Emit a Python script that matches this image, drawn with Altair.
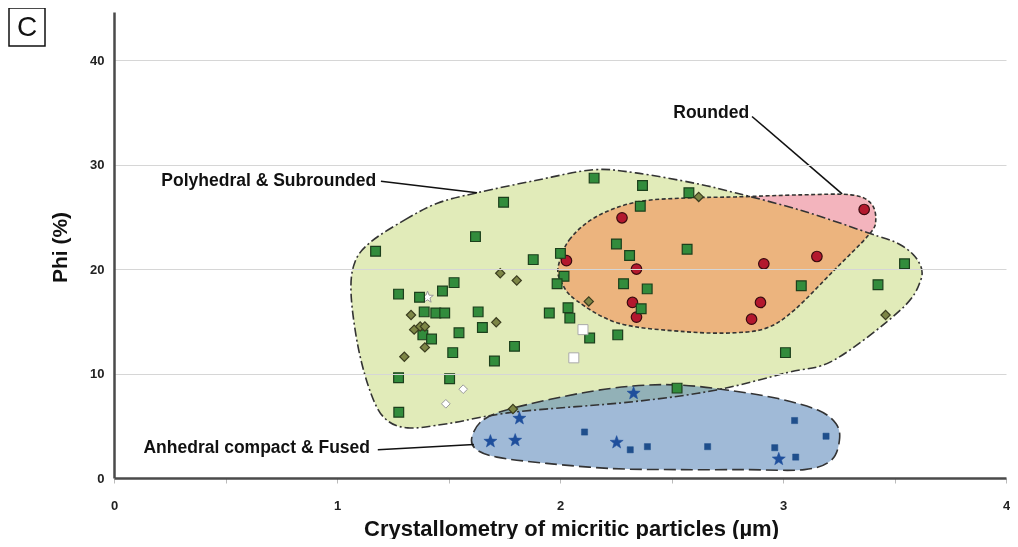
import math
import altair as alt
import pandas as pd

# ---------------- data ----------------
green_sq_x = [1.173, 1.747, 1.621, 1.880, 2.002, 2.018, 1.987, 1.525, 1.473, 1.276, 1.370, 1.391,
              1.443, 1.483, 1.633, 1.652, 1.547, 1.385, 1.424, 1.796, 1.519, 1.706, 1.276, 1.505,
              1.277, 1.952, 2.036, 2.044, 2.133, 2.153, 2.370, 2.578, 2.360, 2.253, 2.312, 2.570,
              2.285, 2.391, 2.364, 2.259, 3.082, 3.011, 3.426, 3.545, 2.525]
green_sq_y = [21.7, 26.4, 23.1, 20.9, 21.5, 19.3, 18.6, 18.7, 17.9, 17.6, 17.3, 15.9,
              15.8, 15.8, 15.9, 14.4, 13.9, 13.7, 13.3, 12.6, 12.0, 11.2, 9.6, 9.5,
              6.3, 15.8, 16.3, 15.3, 13.4, 28.7, 28.0, 27.3, 26.0, 22.4, 21.3, 21.9,
              18.6, 18.1, 16.2, 13.7, 18.4, 12.0, 18.5, 20.5, 8.6]

olive_dia_x = [1.732, 1.806, 1.332, 1.714, 1.346, 1.373, 1.394, 1.394, 1.302, 2.129, 1.789, 2.622, 3.460]
olive_dia_y = [19.6, 18.9, 15.6, 14.9, 14.2, 14.5, 14.5, 12.5, 11.6, 16.9, 6.6, 26.9, 15.6]

white_dia_x = [1.566, 1.488]
white_dia_y = [8.5, 7.1]
white_sq_x = [2.103, 2.062]
white_sq_y = [14.2, 11.5]
white_star_x = [1.406]
white_star_y = [17.3]

red_x = [2.278, 2.029, 2.343, 2.325, 2.343, 2.914, 3.152, 2.899, 2.859, 3.364]
red_y = [24.9, 20.8, 20.0, 16.8, 15.4, 20.5, 21.2, 16.8, 15.2, 25.7]

blue_star_x = [2.330, 1.818, 1.688, 1.799, 2.254, 2.981]
blue_star_y = [8.1, 5.7, 3.5, 3.6, 3.4, 1.8]
blue_sq_x = [2.110, 2.315, 2.392, 2.662, 2.963, 3.057, 3.052, 3.193]
blue_sq_y = [4.4, 2.7, 3.0, 3.0, 2.9, 2.0, 5.5, 4.0]

# region outlines (data units)
poly_x = [1.152, 1.304, 1.450, 1.628, 1.895, 2.149, 2.340, 2.607, 2.785, 3.083, 3.377, 3.528,
          3.608, 3.617, 3.528, 3.230, 3.021, 2.696, 2.327, 1.793, 1.495, 1.317, 1.215, 1.152,
          1.095, 1.063, 1.081]
poly_y = [22.6, 24.7, 26.3, 27.3, 28.5, 29.5, 29.2, 28.2, 27.3, 25.6, 23.5, 22.3,
          20.7, 18.9, 16.1, 11.3, 10.1, 8.4, 7.3, 6.3, 5.2, 4.8, 5.7, 8.1,
          12.5, 17.7, 20.7]

round_x = [1.992, 2.042, 2.162, 2.340, 2.563, 2.785, 3.082, 3.305, 3.394, 3.416, 3.386, 3.230,
           3.052, 2.932, 2.785, 2.563, 2.265, 2.073, 2.007]
round_y = [20.2, 22.8, 25.0, 26.4, 26.8, 26.9, 27.1, 27.1, 26.3, 24.7, 23.3, 19.9,
           16.1, 14.4, 13.9, 14.0, 14.8, 17.0, 18.7]

# part of the "Rounded" zone lying outside the polyhedral zone (above its edge)
pink_x = [2.600, 2.785, 3.083, 3.377, 3.528, 3.700, 3.700, 2.600]
pink_y = [28.3, 27.3, 25.6, 23.5, 22.3, 22.3, 28.6, 28.6]

anh_x = [1.606, 1.658, 1.792, 2.088, 2.326, 2.533, 2.756, 2.978, 3.156, 3.238, 3.253, 3.216,
         3.096, 2.830, 2.532, 2.237, 1.940, 1.717, 1.621]
anh_y = [4.0, 5.6, 6.7, 8.1, 8.8, 8.9, 8.4, 7.6, 6.5, 5.2, 3.6, 1.7,
         0.8, 0.8, 0.8, 0.9, 1.4, 2.0, 2.8]

labels = ["Polyhedral & Subrounded", "Rounded", "Anhedral compact & Fused"]
label_x = [0.694, 2.678, 0.640]
label_y = [28.4, 34.9, 2.9]
lead_x = [1.197, 2.861, 1.183]
lead_y = [28.4, 34.6, 2.7]
lead_x2 = [1.628, 3.265, 1.614]
lead_y2 = [27.3, 27.2, 3.2]

x_ticks = [0, 0.5, 1, 1.5, 2, 2.5, 3, 3.5, 4]
y_ticks = [0, 10, 20, 30, 40]

FONT = "Liberation Sans"
AXIS_DARK = "#4a4a4a"


def X(field="x"):
    return alt.X(f"{field}:Q",
                 scale=alt.Scale(domain=[0, 4], nice=False, zero=False),
                 axis=alt.Axis(values=x_ticks, grid=False, ticks=True, tickSize=5,
                               tickColor="#bbbbbb", tickWidth=1,
                               domainColor=AXIS_DARK, domainWidth=2.5,
                               labelExpr="datum.value % 1 === 0 ? format(datum.value, 'd') : ''",
                               labelFont=FONT, labelFontSize=13, labelFontWeight="bold",
                               labelColor="#222222", labelPadding=16, labelFlush=False,
                               title="Crystallometry of micritic particles (µm)",
                               titleFont=FONT, titleFontSize=22, titleFontWeight="bold",
                               titleColor="#111111", titleX=457, titleY=57,
                               titleBaseline="alphabetic", zindex=2))


def Y(field="y"):
    return alt.Y(f"{field}:Q",
                 scale=alt.Scale(domain=[0, 44.6], nice=False, zero=True),
                 axis=alt.Axis(values=y_ticks, grid=True,
                               gridColor={"condition": {"test": "datum.value === 0",
                                                        "value": "transparent"},
                                          "value": "#d6d6d6"},
                               gridWidth=1, ticks=False, tickSize=0,
                               domainColor=AXIS_DARK, domainWidth=2.5,
                               labelFont=FONT, labelFontSize=13, labelFontWeight="bold",
                               labelColor="#222222", labelPadding=10,
                               title="Phi (%)", titleFont=FONT, titleFontSize=21,
                               titleFontWeight="bold", titleColor="#111111",
                               titleX=-54, titleY=235, titleBaseline="middle", titleAngle=-90,
                               zindex=1))


def poly_df(xs, ys):
    return pd.DataFrame({"x": xs, "y": ys, "i": list(range(len(xs)))})


def region_fill(xs, ys, color, interp="cardinal-closed", **kw):
    return alt.Chart(poly_df(xs, ys)).mark_line(
        interpolate=interp, fill=color, stroke="transparent", strokeWidth=0, **kw
    ).encode(x=X(), y=Y(), order="i:Q")


def region_stroke(xs, ys, dash, width=1.6):
    return alt.Chart(poly_df(xs, ys)).mark_line(
        interpolate="cardinal-closed", stroke="#333333", strokeWidth=width,
        strokeDash=dash, fill="transparent"
    ).encode(x=X(), y=Y(), order="i:Q")


def points(xs, ys, shape, size, fill, stroke, sw):
    return alt.Chart(pd.DataFrame({"x": xs, "y": ys})).mark_point(
        shape=shape, size=size, filled=True, fill=fill, stroke=stroke,
        strokeWidth=sw, opacity=1
    ).encode(x=X(), y=Y())


# 5-point star as a unit path
_pts = []
for k in range(10):
    r = 1.0 if k % 2 == 0 else 0.42
    a = -math.pi / 2 + k * math.pi / 5
    _pts.append(f"{r * math.cos(a):.3f},{r * math.sin(a):.3f}")
STAR = "M" + "L".join(_pts) + "Z"

fills = [
    region_fill(poly_x, poly_y, "#e1ebb9"),
    region_fill(round_x, round_y, "#ecb47e"),
    region_fill(pink_x, pink_y, "#f3b3bd", interp="linear-closed", blend="lighten"),
    region_fill(anh_x, anh_y, "#5281b6", fillOpacity=0.55),
]
strokes = [
    region_stroke(poly_x, poly_y, [9, 3, 2, 3]),
    region_stroke(round_x, round_y, [4, 2.5]),
    region_stroke(anh_x, anh_y, [12, 5]),
]

pts_layers = [
    points(white_star_x, white_star_y, STAR, 150, "#ffffff", "#999999", 1),
    points(red_x, red_y, "circle", 110, "#b3182e", "#3a0a0f", 1.2),
    points(green_sq_x, green_sq_y, "square", 95, "#328c3c", "#1c3f1c", 1.2),
    points(olive_dia_x, olive_dia_y, "diamond", 85, "#7d8646", "#3b3d1f", 1.2),
    points(white_dia_x, white_dia_y, "diamond", 75, "#ffffff", "#999999", 1),
    points(white_sq_x, white_sq_y, "square", 100, "#ffffff", "#aaaaaa", 1),
    points(blue_star_x, blue_star_y, STAR, 190, "#1f4f9c", "#1f4f9c", 0.5),
    points(blue_sq_x, blue_sq_y, "square", 38, "#1f4f8c", "#1f4f8c", 0.5),
]

ann_df = pd.DataFrame({"label": labels, "x": label_x, "y": label_y,
                       "lx": lead_x, "ly": lead_y, "lx2": lead_x2, "ly2": lead_y2})
leaders = alt.Chart(ann_df).mark_rule(color="#111111", strokeWidth=1.6).encode(
    x=X("lx"), y=Y("ly"), x2="lx2:Q", y2="ly2:Q")
texts = alt.Chart(ann_df).mark_text(
    font=FONT, fontSize=17.5, fontWeight="bold", color="#111111",
    align="center", baseline="middle"
).encode(x=X(), y=Y(), text="label:N")

one = pd.DataFrame({"a": [0]})
panel_box = alt.Chart(one).mark_rect(fill="transparent", stroke="#111111", strokeWidth=1.5).encode(
    x=alt.value(-105), x2=alt.value(-69), y=alt.value(-4), y2=alt.value(34))
panel_txt = alt.Chart(one).mark_text(
    text="C", font=FONT, fontSize=28, color="#111111", align="center", baseline="middle"
).encode(x=alt.value(-87), y=alt.value(16))

chart = alt.layer(*fills, *strokes, *pts_layers, leaders, texts, panel_box, panel_txt).properties(
    width=892, height=466,
    autosize=alt.AutoSizeParams(type="none"),
    padding={"left": 106, "top": 4, "right": 4, "bottom": 61},
).configure(font=FONT).configure_view(strokeWidth=0, stroke="transparent")

chart.save("out.html", embed_options={"renderer": "svg", "actions": False})
